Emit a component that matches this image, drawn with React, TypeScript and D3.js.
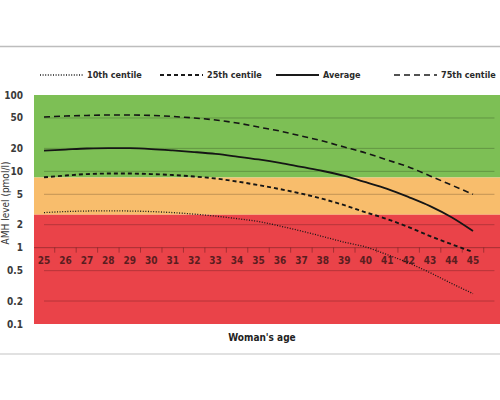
import React from 'react';
import * as d3 from 'd3';

// ages on the x axis
const ages = d3.range(25, 46);

// AMH level (pmol/l), one per age 25..45
const centile75 = [51.5, 53, 54, 54.7, 54.7, 54, 52.3, 50, 47, 43, 38, 33.7, 29, 24.9, 20.8, 17.4, 14.1, 11.4, 8.7, 6.6, 5.0];
const average = [18.7, 19.3, 19.9, 20.2, 20.1, 19.6, 18.8, 17.9, 16.9, 15.6, 14.3, 12.9, 11.4, 10.1, 8.7, 7.2, 5.9, 4.6, 3.5, 2.5, 1.65];
const centile25 = [8.35, 8.8, 9.2, 9.35, 9.35, 9.2, 8.95, 8.55, 8.05, 7.35, 6.6, 5.85, 5.1, 4.35, 3.6, 2.9, 2.37, 1.86, 1.42, 1.11, 0.875];
const centile10 = [2.88, 2.97, 3.02, 3.04, 3.02, 2.97, 2.88, 2.75, 2.59, 2.4, 2.2, 1.92, 1.65, 1.4, 1.18, 1.02, 0.81, 0.63, 0.47, 0.34, 0.25];

const yTicks = [100, 50, 20, 10, 5, 2, 1, 0.5, 0.2, 0.1];
const gridValues = [50, 20, 10, 5, 2, 0.5, 0.2];

// coloured zones: [top, bottom, colour]
const zones: [number, number, string][] = [
  [100, 8.3, '#7dbf55'],
  [8.3, 2.7, '#f8bd6c'],
  [2.7, 0.1, '#ea4349'],
];

const series = [
  { name: '10th centile', values: centile10, dash: '1,1.6', width: 1.3 },
  { name: '25th centile', values: centile25, dash: '4,3', width: 1.9 },
  { name: 'Average', values: average, dash: null, width: 1.8 },
  { name: '75th centile', values: centile75, dash: '6,4', width: 1.6 },
];

const legendX = [40, 160, 276, 394];

const font = '"DejaVu Sans Condensed", "DejaVu Sans", sans-serif';

export default function App() {
  const width = 500;
  const height = 400;
  const plot = { left: 34, right: 500, top: 95, bottom: 324 };

  const x = d3.scaleLinear().domain([25, 45]).range([44, 473]);
  const y = d3.scaleLog().domain([0.1, 100]).range([plot.bottom, plot.top]);

  const line = d3
    .line<number>()
    .x((_, i) => x(ages[i]))
    .y(d => y(d))
    .curve(d3.curveMonotoneX);

  const axisY = y(1);

  return (
    <svg
      width={width}
      height={height}
      style={{ position: 'absolute', left: 0, top: 0, background: '#fff' }}
      fontFamily={font}
    >
      {/* page rules */}
      <line x1={0} x2={width} y1={46.5} y2={46.5} stroke="#bdbdbd" strokeWidth={1.5} />
      <line x1={0} x2={width} y1={354} y2={354} stroke="#c4c4c4" strokeWidth={1.2} />

      {/* legend */}
      {series.map((s, i) => (
        <g key={s.name}>
          <line
            x1={legendX[i]}
            x2={legendX[i] + 43}
            y1={75}
            y2={75}
            stroke="#1a1a1a"
            strokeWidth={s.width}
            strokeDasharray={s.dash ?? undefined}
          />
          <text
            x={legendX[i] + 47}
            y={75}
            dy="0.35em"
            fontSize={9}
            fontWeight="bold"
            fill="#2a2a2a"
          >
            {s.name}
          </text>
        </g>
      ))}

      {/* zones */}
      {zones.map(([top, bottom, color]) => (
        <rect
          key={color}
          x={plot.left}
          width={plot.right - plot.left}
          y={y(top)}
          height={y(bottom) - y(top)}
          fill={color}
        />
      ))}

      {/* grid lines */}
      {gridValues.map(v => (
        <line
          key={v}
          x1={x(25)}
          x2={x(46)}
          y1={y(v)}
          y2={y(v)}
          stroke="#000"
          strokeOpacity={0.22}
          strokeWidth={1}
        />
      ))}

      {/* x axis at 1 pmol/l */}
      <line x1={plot.left} x2={plot.right} y1={axisY} y2={axisY} stroke="#000" strokeOpacity={0.3} strokeWidth={1} />
      {ages.map(a => (
        <g key={a}>
          <line
            x1={x(a + 0.5)}
            x2={x(a + 0.5)}
            y1={axisY}
            y2={axisY + 5}
            stroke="#000"
            strokeOpacity={0.3}
          />
          <text
            x={x(a)}
            y={axisY + 13}
            dy="0.35em"
            textAnchor="middle"
            fontSize={10}
            fontWeight="bold"
            fill="#5a1d1f"
          >
            {a}
          </text>
        </g>
      ))}

      {/* y tick labels */}
      {yTicks.map(v => (
        <text
          key={v}
          x={23}
          y={y(v)}
          dy="0.35em"
          textAnchor="end"
          fontSize={10}
          fontWeight={600}
          fill="#3a3a3a"
        >
          {v}
        </text>
      ))}

      {/* y axis title */}
      <text
        transform="translate(9, 203) rotate(-90)"
        textAnchor="middle"
        fontSize={10}
        fill="#333"
      >
        AMH level (pmol/l)
      </text>

      {/* series */}
      {series.map(s => (
        <path
          key={s.name}
          d={line(s.values) ?? ''}
          fill="none"
          stroke="#151515"
          strokeWidth={s.width}
          strokeDasharray={s.dash ?? undefined}
        />
      ))}

      {/* x axis title */}
      <text
        x={262}
        y={337}
        dy="0.35em"
        textAnchor="middle"
        fontSize={10}
        fontWeight="bold"
        fill="#222"
      >
        Woman's age
      </text>
    </svg>
  );
}
